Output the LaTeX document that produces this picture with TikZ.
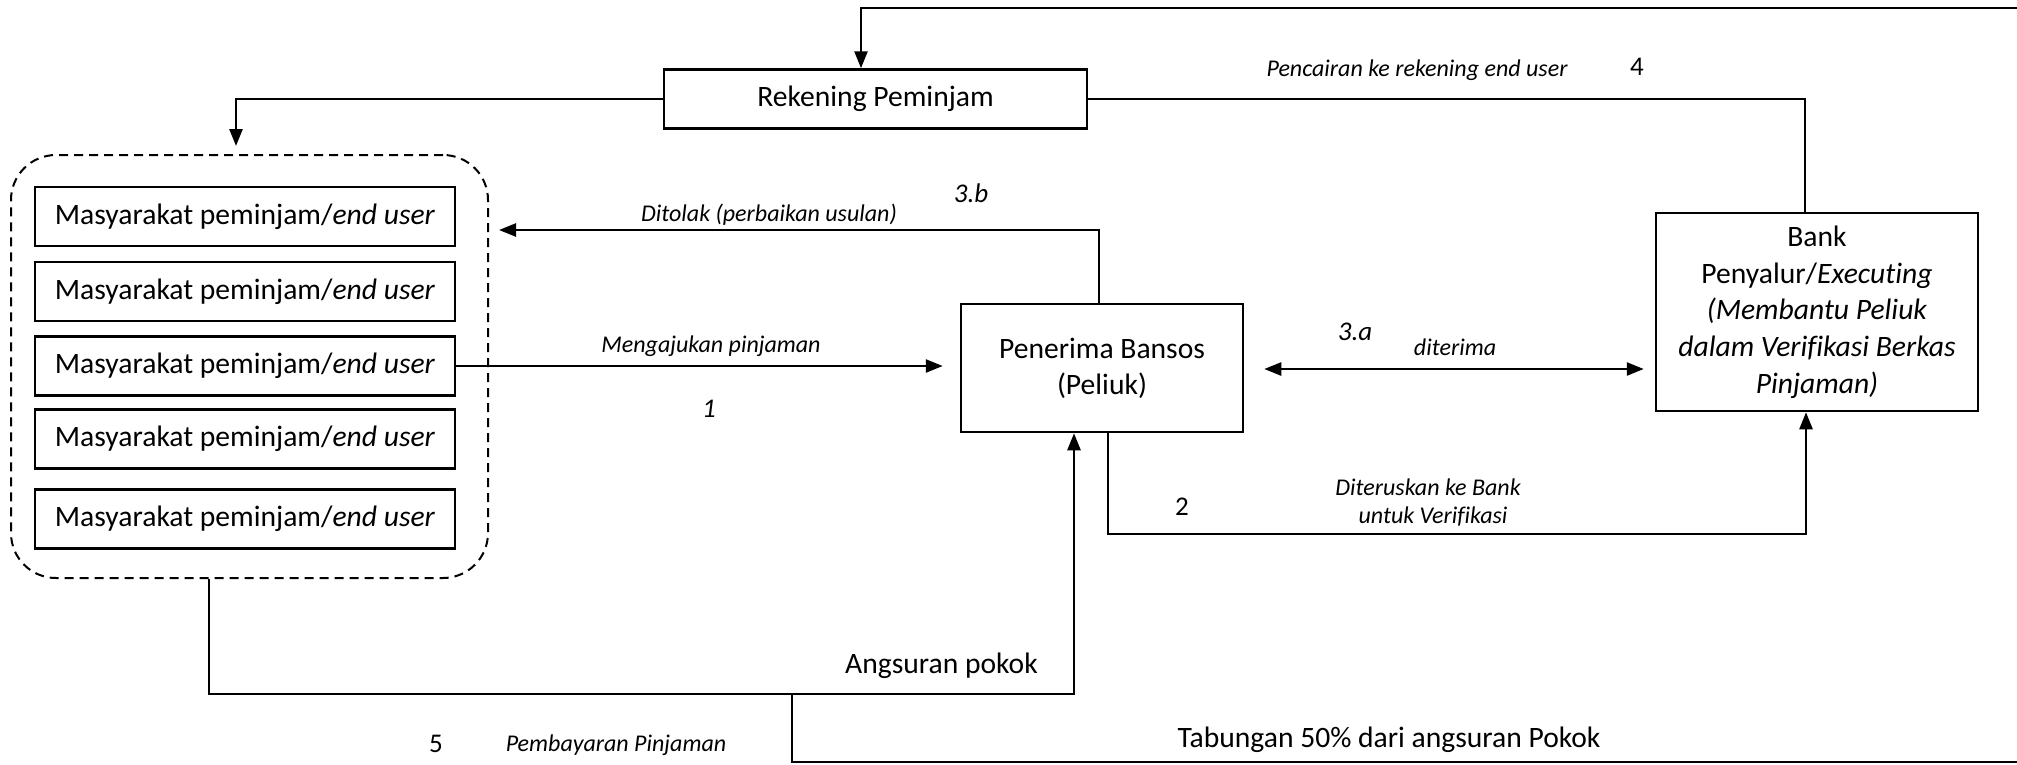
\documentclass[tikz,border=0pt]{standalone}
\usepackage{fontspec}
\setmainfont{Carlito}[Ligatures=NoCommon]
\usetikzlibrary{arrows.meta,calc}
\begin{document}
\begin{tikzpicture}[x=1pt,y=-1pt,
  line width=2.5pt,
  arr/.style={-{Triangle[length=17pt,width=13pt]}},
  arrtwo/.style={{Triangle[length=17pt,width=13pt]}-{Triangle[length=17pt,width=13pt]}},
  box/.style={draw,rectangle,inner sep=0pt,align=center,font=\fontsize{29.6}{36}\selectfont},
  mbox/.style={box,minimum width=420pt,minimum height=59pt},
  grpbox/.style={draw,rectangle,rounded corners=45pt,dashed,dash pattern=on 9pt off 6pt,line width=2pt,minimum width=477pt,minimum height=423pt},
  lbl/.style={inner sep=0pt,font=\fontsize{24}{28}\selectfont\itshape},
  lblsm/.style={inner sep=0pt,font=\fontsize{24}{28}\selectfont\itshape,align=center},
  num/.style={inner sep=0pt,font=\fontsize{27}{30}\selectfont},
  numi/.style={inner sep=0pt,font=\fontsize{27}{30}\selectfont\itshape},
  big/.style={inner sep=0pt,font=\fontsize{29.6}{34}\selectfont}
]
\useasboundingbox (0,0) rectangle (2017,764);

% nodes
\node[box,minimum width=423pt,minimum height=59pt] (rek) at (875.5,99) {Rekening Peminjam};
\node[grpbox] (grp) at (249.5,366.5) {};
\node[mbox] (m1) at (245,216.5) {Masyarakat peminjam/\textit{end user}};
\node[mbox] (m2) at (245,291.5) {Masyarakat peminjam/\textit{end user}};
\node[mbox] (m3) at (245,366) {Masyarakat peminjam/\textit{end user}};
\node[mbox] (m4) at (245,439) {Masyarakat peminjam/\textit{end user}};
\node[mbox] (m5) at (245,519) {Masyarakat peminjam/\textit{end user}};
\node[box,minimum width=282pt,minimum height=128pt] (pen) at (1102,368) {Penerima Bansos\\(Peliuk)};
\node[box,minimum width=322pt,minimum height=198pt,font=\fontsize{29.6}{36.7}\selectfont] (bank) at (1817,312)
  {Bank\\Penyalur/\textit{Executing}\\\textit{(Membantu Peliuk}\\\textit{dalam Verifikasi Berkas}\\\textit{Pinjaman)}};

% coordinates
\coordinate (topR) at (2017,8);
\coordinate (ax) at (861,0);
\coordinate (grpIn) at (236,146);
\coordinate (tolak) at (499,230);
\coordinate (c2) at (1400,534);
\coordinate (pay) at (209,694);
\coordinate (payup) at (1074,694);
\coordinate (br) at (792,694);
\coordinate (botR) at (2017,762);

% connectors
\draw[arr] (topR) -| (ax |- rek.north);
\draw[arr] (rek.west) -| (grpIn);
\draw (rek.east) -| ($(bank.north)+(-12,0)$);
\draw[arr] ($(pen.north)+(-3,0)$) |- (tolak);
\draw[arr,shorten >=17pt] (m3.east) -- (m3.east -| pen.west);
\draw[arrtwo,shorten <=20pt,shorten >=11pt] ($(pen.east)+(0,1)$) -- ($(pen.east -| bank.west)+(0,1)$);
\draw[arr] ($(pen.south)+(6,0)$) |- (c2) -| ($(bank.south)+(-11,0)$);
\draw[arr] (grp.south -| pay) -- (pay) -- (payup) -- (payup |- pen.south);
\draw (br) |- (botR);

% labels
\node[lbl] (l4t) at (1417,70) {Pencairan ke rekening end user};
\node[num] (l4) at (1637,67) {4};
\node[numi] (l3b) at (971,193) {3.b};
\node[lbl] (l3bt) at (769,215) {Ditolak (perbaikan usulan)};
\node[lbl] (l1t) at (711,346) {Mengajukan pinjaman};
\node[numi] (l1) at (709,409) {1};
\node[numi] (l3a) at (1355,332) {3.a};
\node[lbl] (l3at) at (1455,347) {diterima};
\node[num] (l2) at (1182,507) {2};
\node[lblsm] (l2t) at (1428,503) {Diteruskan ke Bank\\\hspace*{10pt}untuk Verifikasi};
\node[big,anchor=east] (ang) at (1039,666) {Angsuran pokok};
\node[big] (tab) at (1389,740) {Tabungan 50\% dari angsuran Pokok};
\node[num] (l5) at (436,744) {5};
\node[lblsm] (l5t) at (616,745) {Pembayaran Pinjaman};
\end{tikzpicture}
\end{document}
